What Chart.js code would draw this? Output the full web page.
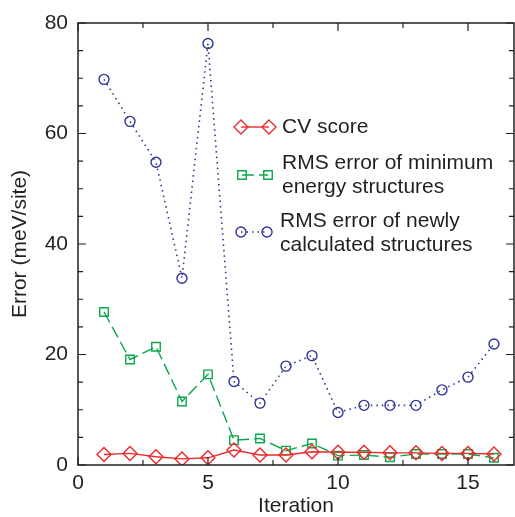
<!DOCTYPE html>
<html>
<head>
<meta charset="utf-8">
<script src="https://cdn.jsdelivr.net/npm/chart.js@4/dist/chart.umd.min.js"></script>
<style>
  html, body { margin: 0; padding: 0; background: #fff; }
  #wrap { width: 515px; height: 517px; }
</style>
</head>
<body>
<div id="wrap"><canvas id="errorChart" width="515" height="517"></canvas></div>
<script>
// data
const iterations = [1, 2, 3, 4, 5, 6, 7, 8, 9, 10, 11, 12, 13, 14, 15, 16];
const cvScore = [1.9, 2.1, 1.5, 1.1, 1.3, 2.7, 1.8, 1.8, 2.4, 2.3, 2.3, 2.2, 2.2, 2.1, 2.1, 2.0];
const rmsMinimum = [27.7, 19.1, 21.4, 11.5, 16.4, 4.5, 4.8, 2.6, 3.9, 1.7, 1.8, 1.4, 2.0, 2.0, 2.0, 1.3];
const rmsNewly = [69.8, 62.2, 54.8, 33.8, 76.3, 15.1, 11.2, 17.9, 19.8, 9.5, 10.8, 10.8, 10.8, 13.6, 15.9, 21.9];

const xTicks = [0, 5, 10, 15];
const yTicks = [0, 20, 40, 60, 80];
const legendLabels = [
  ['CV score'],
  ['RMS error of minimum', 'energy structures'],
  ['RMS error of newly', 'calculated structures']
];

const FONT = "'Liberation Sans', Arial, sans-serif";
const INK = '#231f20';
const RED = '#ec2a2e';
const GREEN = '#0ba84c';
const BLUE = '#2e3592';

function pts(ys) {
  return ys.map((y, i) => ({ x: iterations[i], y: y }));
}

// frame + inside ticks on all four sides
const framePlugin = {
  id: 'frame',
  afterDraw(chart) {
    const { ctx, chartArea: a, scales } = chart;
    const xs = scales.x, ys = scales.y;
    ctx.save();
    ctx.strokeStyle = INK;
    ctx.lineWidth = 1.5;
    ctx.strokeRect(a.left, a.top, a.right - a.left, a.bottom - a.top);
    ctx.lineWidth = 1.2;
    ctx.beginPath();
    for (let v = 0; v <= xs.max; v += 2.5) {
      const px = xs.getPixelForValue(v);
      const len = (v % 5 === 0) ? 8 : 5;
      ctx.moveTo(px, a.bottom); ctx.lineTo(px, a.bottom - len);
      ctx.moveTo(px, a.top); ctx.lineTo(px, a.top + len);
    }
    for (let v = 0; v <= ys.max; v += 5) {
      const py = ys.getPixelForValue(v);
      const len = (v % 20 === 0) ? 8 : 5;
      ctx.moveTo(a.left, py); ctx.lineTo(a.left + len, py);
      ctx.moveTo(a.right, py); ctx.lineTo(a.right - len, py);
    }
    ctx.stroke();
    ctx.restore();
  }
};

// legend inside the plot, multi-line labels
const legendPlugin = {
  id: 'insideLegend',
  afterDraw(chart) {
    const ctx = chart.ctx;
    const rows = [
      { x1: 241, x2: 269, my: 127, tx: 282, ty: [127] },
      { x1: 242, x2: 268, my: 175, tx: 282, ty: [163, 187] },
      { x1: 241, x2: 267, my: 232, tx: 280, ty: [221, 245] }
    ];
    ctx.save();
    chart.data.datasets.forEach((ds, i) => {
      const r = rows[i];
      ctx.strokeStyle = ds.borderColor;
      ctx.lineWidth = ds.borderWidth;
      ctx.setLineDash(ds.borderDash || []);
      ctx.beginPath();
      ctx.moveTo(r.x1, r.my);
      ctx.lineTo(r.x2, r.my);
      ctx.stroke();
      ctx.setLineDash([]);
      const opts = {
        pointStyle: ds.pointStyle,
        radius: ds.pointRadius,
        borderWidth: ds.pointBorderWidth,
        rotation: 0
      };
      ctx.lineWidth = ds.pointBorderWidth;
      ctx.strokeStyle = ds.pointBorderColor;
      ctx.fillStyle = 'rgba(0,0,0,0)';
      [r.x1, r.x2].forEach(px => {
        Chart.helpers.drawPoint(ctx, opts, px, r.my);
      });
      ctx.fillStyle = INK;
      ctx.font = '21px ' + FONT;
      ctx.textBaseline = 'middle';
      ctx.textAlign = 'left';
      legendLabels[i].forEach((line, k) => ctx.fillText(line, r.tx, r.ty[k]));
    });
    ctx.restore();
  }
};

new Chart(document.getElementById('errorChart').getContext('2d'), {
  type: 'line',
  data: {
    datasets: [
      {
        label: legendLabels[0].join(' '),
        data: pts(cvScore),
        borderColor: RED,
        borderWidth: 1.4,
        pointStyle: 'rectRot',
        pointRadius: 7,
        pointBorderWidth: 1.4,
        pointBackgroundColor: 'transparent',
        pointBorderColor: RED,
        fill: false,
        tension: 0
      },
      {
        label: legendLabels[1].join(' '),
        data: pts(rmsMinimum),
        borderColor: GREEN,
        borderWidth: 1.4,
        borderDash: [12, 5],
        pointStyle: 'rect',
        pointRadius: 6,
        pointBorderWidth: 1.4,
        pointBackgroundColor: 'transparent',
        pointBorderColor: GREEN,
        fill: false,
        tension: 0
      },
      {
        label: legendLabels[2].join(' '),
        data: pts(rmsNewly),
        borderColor: BLUE,
        borderWidth: 1.6,
        borderDash: [1.5, 4],
        pointStyle: 'circle',
        pointRadius: 5,
        pointBorderWidth: 1.4,
        pointBackgroundColor: 'transparent',
        pointBorderColor: BLUE,
        fill: false,
        tension: 0
      }
    ]
  },
  options: {
    responsive: false,
    animation: false,
    layout: { autoPadding: false, padding: { top: 23, right: 1, left: 0, bottom: 0 } },
    plugins: {
      legend: { display: false },
      tooltip: { enabled: false }
    },
    scales: {
      x: {
        type: 'linear',
        min: 0,
        max: 16.77,
        grid: { display: false, drawTicks: false },
        border: { display: false },
        afterBuildTicks(scale) { scale.ticks = xTicks.map(v => ({ value: v })); },
        afterFit(scale) {
          scale.height = 52;
          scale.paddingLeft = 0;
          scale.paddingRight = 0;
        },
        ticks: {
          color: INK,
          padding: 6,
          maxRotation: 0,
          font: { family: FONT, size: 21 }
        },
        title: {
          display: true,
          text: 'Iteration',
          color: INK,
          padding: { top: 0, bottom: -2 },
          font: { family: FONT, size: 21 }
        }
      },
      y: {
        min: 0,
        max: 80,
        grid: { display: false, drawTicks: false },
        border: { display: false },
        afterBuildTicks(scale) { scale.ticks = yTicks.map(v => ({ value: v })); },
        afterFit(scale) {
          scale.width = 78;
          scale.paddingTop = 0;
          scale.paddingBottom = 0;
        },
        ticks: {
          color: INK,
          padding: 10,
          font: { family: FONT, size: 21 }
        },
        title: {
          display: true,
          text: 'Error (meV/site)',
          color: INK,
          padding: { top: 8, bottom: 0 },
          font: { family: FONT, size: 21 }
        }
      }
    }
  },
  plugins: [framePlugin, legendPlugin]
});
</script>
</body>
</html>
